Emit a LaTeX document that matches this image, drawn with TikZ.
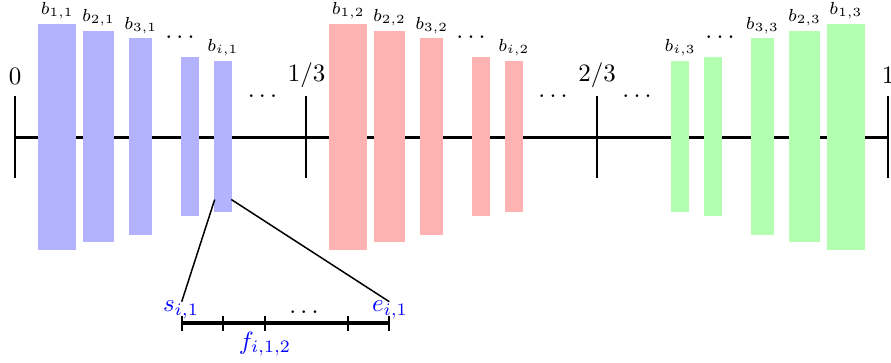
\documentclass[tikz,border=0pt]{standalone}
\begin{document}
\begin{tikzpicture}[x=0.4pt,y=-0.4pt,
  bar/.style={draw=none,inner sep=0pt,outer sep=0pt,rectangle},
  blab/.style={font=\scriptsize,inner sep=1.5pt,anchor=south},
  tlab/.style={anchor=base,inner sep=0pt},
  dotsn/.style={inner sep=0pt},
  zlab/.style={text=blue,anchor=base,inner sep=0pt}]
\useasboundingbox (0,0) rectangle (891,362);
% main axis
\coordinate (L) at (15,137);
\coordinate (R) at (888,137);
\draw[very thick] (L) -- (R);
\foreach \x in {15,306,597,888} \draw[thick] (\x,96) -- (\x,178);
\node[tlab] (l0) at (15,84.3) {$0$};
\node[tlab] (l1) at (306.5,81.5) {$1/3$};
\node[tlab] (l2) at (597,81.5) {$2/3$};
\node[tlab] (l3) at (888,83.5) {$1$};
% bars
\foreach \n/\cx/\w/\h in {1/57.15/37.7/226, 2/98.5/31/211.7, 3/140.65/22.7/196.4, 4/190/18/158.7, 5/222.85/17.7/151.7}{
  \node[bar,fill=blue!30,minimum width=\w*0.4pt,minimum height=\h*0.4pt] (B\n) at (\cx,136.5) {};
  \node[bar,fill=red!30,minimum width=\w*0.4pt,minimum height=\h*0.4pt] (P\n) at (\cx+291,136.5) {};
  \node[bar,fill=green!30,minimum width=\w*0.4pt,minimum height=\h*0.4pt] (G\n) at (903-\cx,136.5) {};
}
\foreach \n/\t in {1/1,2/2,3/3,5/i}{
  \node[blab] (LB\n) at (B\n.north) {$b_{\t,1}$};
  \node[blab] (LP\n) at (P\n.north) {$b_{\t,2}$};
  \node[blab] (LG\n) at (G\n.north) {$b_{\t,3}$};
}
% dots
\node[dotsn] (d1) at (180,37) {$\ldots$};
\node[dotsn] (d2) at (471,37) {$\ldots$};
\node[dotsn] (d3) at (720,37) {$\ldots$};
\node[dotsn] (d4) at (262.5,96) {$\ldots$};
\node[dotsn] (d5) at (553,96) {$\ldots$};
\node[dotsn] (d6) at (637,96) {$\ldots$};
% zoom
\coordinate (Z1) at (214.7,199.5);
\coordinate (Z2) at (231.3,199.5);
\coordinate (S1) at (181.7,301.7);
\coordinate (E1) at (389.3,301.7);
\draw[semithick] (Z1) -- (S1);
\draw[semithick] (Z2) -- (E1);
\coordinate (S) at (181.7,323.3);
\coordinate (E) at (389.3,323.3);
\draw[ultra thick] (S) -- (E);
\foreach \x in {181.7,223.3,265,348.3,389.3} \draw[thick] (\x,315.8) -- (\x,330.8);
\node[zlab] (s) at (181,311.5) {$s_{i,1}$};
\node[zlab] (e) at (390,311.5) {$e_{i,1}$};
\node[zlab] (f) at (265,349) {$f_{i,1,2}$};
\node[dotsn] (d7) at (304,312) {$\ldots$};
\end{tikzpicture}
\end{document}
